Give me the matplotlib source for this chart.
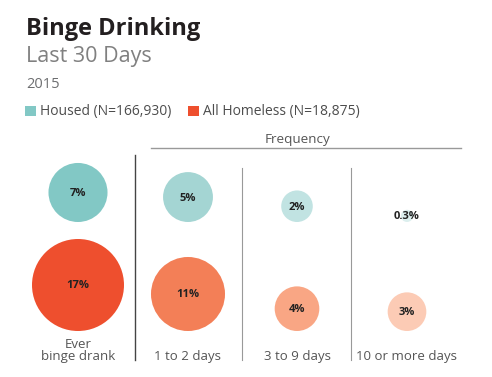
import matplotlib
matplotlib.use("Agg")
import matplotlib.pyplot as plt
from matplotlib.patches import Circle, Rectangle
import numpy as np

# data
categories = ["Ever\nbinge drank", "1 to 2 days", "3 to 9 days", "10 or more days"]
housed = [7, 5, 2, 0.3]
homeless = [17, 11, 4, 3]
housed_labels = ["7%", "5%", "2%", "0.3%"]
homeless_labels = ["17%", "11%", "4%", "3%"]
series_names = ["Housed (N=166,930)", "All Homeless (N=18,875)"]

# colours, one shade per column
housed_colors = ["#82C8C5", "#A4D5D3", "#C1E3E2", "#DCEFEE"]
homeless_colors = ["#EE4F2E", "#F37F57", "#F9A684", "#FCCBB5"]

plt.rcParams["font.family"] = ["Open Sans", "DejaVu Sans"]

W, H = 492, 377
fig = plt.figure(figsize=(W / 100, H / 100), dpi=100)
ax = fig.add_axes([0, 0, 1, 1])
ax.set_xlim(0, W)
ax.set_ylim(H, 0)
ax.set_aspect("equal")
ax.axis("off")

# layout in pixels
col_x = [78, 188, 297, 407]
housed_bottom = 222
homeless_bottom = 331
r_max = 46
v_max = max(homeless)


def radius(v):
    # bubble area proportional to value
    return r_max * np.sqrt(v / v_max)


for i in range(len(categories)):
    r = radius(housed[i])
    ax.add_patch(Circle((col_x[i], housed_bottom - r), r, color=housed_colors[i], lw=0))
    ax.text(col_x[i], housed_bottom - r + 1, housed_labels[i], ha="center", va="center",
            fontsize=8, fontweight="bold", color="#222222")
    r = radius(homeless[i])
    ax.add_patch(Circle((col_x[i], homeless_bottom - r), r, color=homeless_colors[i], lw=0))
    ax.text(col_x[i], homeless_bottom - r + 1, homeless_labels[i], ha="center", va="center",
            fontsize=8, fontweight="bold", color="#222222")

# category labels
for i, c in enumerate(categories):
    ax.text(col_x[i], 360, c, ha="center", va="baseline", fontsize=9.5,
            color="#555555", linespacing=0.85)

# dividers
ax.plot([135, 135], [155, 360], color="#444444", lw=1)
ax.plot([242, 242], [168, 360], color="#999999", lw=0.8)
ax.plot([351, 351], [168, 360], color="#999999", lw=0.8)

# frequency header
ax.plot([151, 461], [148, 148], color="#999999", lw=1)
ax.text(297, 143, "Frequency", ha="center", va="baseline", fontsize=9.7, color="#555555")

# titles
ax.text(26, 35, "Binge Drinking", ha="left", va="baseline", fontsize=17,
        fontweight="bold", color="#231F20")
ax.text(26, 62, "Last 30 Days", ha="left", va="baseline", fontsize=15.5, color="#808080")
ax.text(26, 88, "2015", ha="left", va="baseline", fontsize=10.5, color="#6D6E70")

# legend
ax.add_patch(Rectangle((25, 106), 11, 10, color=housed_colors[0], lw=0))
ax.text(40, 115, series_names[0], ha="left", va="baseline", fontsize=10, color="#4D4D4D")
ax.add_patch(Rectangle((188, 106), 11, 10, color=homeless_colors[0], lw=0))
ax.text(203, 115, series_names[1], ha="left", va="baseline", fontsize=10, color="#4D4D4D")

fig.savefig("out.png", dpi=100)
